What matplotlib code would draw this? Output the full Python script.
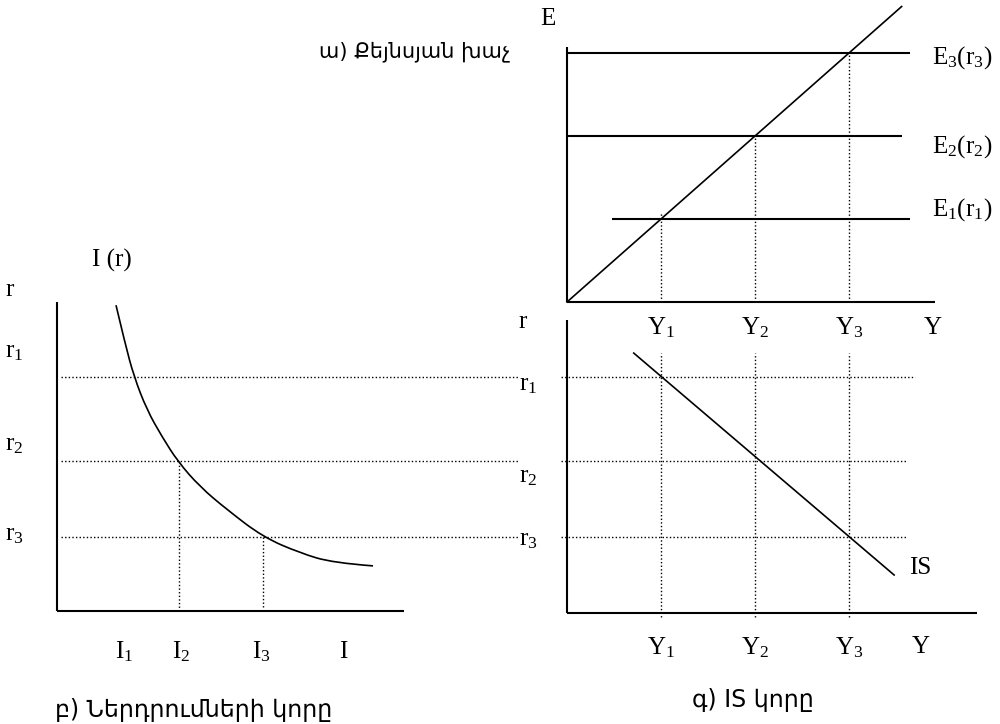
import matplotlib
matplotlib.use('Agg')
import matplotlib.pyplot as plt
from matplotlib.path import Path
from matplotlib.patches import PathPatch

plt.rcParams['font.family'] = ['Liberation Serif', 'DejaVu Serif']
plt.rcParams['mathtext.fontset'] = 'custom'
plt.rcParams['mathtext.rm'] = 'Liberation Serif'
plt.rcParams['mathtext.it'] = 'Liberation Serif:italic'

# income levels Y1..Y3 and spending lines E1..E3 (45 degree line, E = Y)
Y_levels = [1.0, 2.0, 3.0]
E_levels = [1.0, 2.0, 3.0]
# interest rates r1 > r2 > r3
r_levels = [3.1, 2.0, 1.0]
# investment curve I(r)
inv_I = [0.59, 0.68, 0.77, 0.90, 1.05, 1.21, 1.43, 1.70, 2.06, 2.43, 2.76, 3.16]
inv_r = [4.05, 3.55, 3.11, 2.67, 2.32, 1.99, 1.66, 1.36, 1.00, 0.79, 0.66, 0.62]
I_levels = [0.77, 1.22, 2.06]
# IS curve end points
is_Y = [0.71, 3.48]
is_r = [3.42, 0.50]

E_names = [r'$\mathrm{E}_1(\mathrm{r}_1)$', r'$\mathrm{E}_2(\mathrm{r}_2)$', r'$\mathrm{E}_3(\mathrm{r}_3)$']
Y_names = [r'$\mathrm{Y}_1$', r'$\mathrm{Y}_2$', r'$\mathrm{Y}_3$']
r_names = [r'$\mathrm{r}_1$', r'$\mathrm{r}_2$', r'$\mathrm{r}_3$']
I_names = [r'$\mathrm{I}_1$', r'$\mathrm{I}_2$', r'$\mathrm{I}_3$']

W, H = 1000, 724
fig = plt.figure(figsize=(10, 7.24), dpi=100)
fig.patch.set_facecolor('white')


def px_axes(left, top, right, bottom):
    a = fig.add_axes([left / W, 1 - bottom / H, (right - left) / W, (bottom - top) / H])
    a.set_axis_off()
    return a


def smooth_curve(ax, xs, ys, **kw):
    # quadratic b-spline through the read points, drawn as a bezier path
    pts = list(zip(xs, ys))
    verts = [pts[0]]
    codes = [Path.MOVETO]
    for i in range(1, len(pts) - 1):
        if i < len(pts) - 2:
            end = ((pts[i][0] + pts[i + 1][0]) / 2, (pts[i][1] + pts[i + 1][1]) / 2)
        else:
            end = pts[-1]
        verts += [pts[i], end]
        codes += [Path.CURVE3, Path.CURVE3]
    ax.add_patch(PathPatch(Path(verts, codes), fill=False, **kw))


ax_e = px_axes(567, 0, 1000, 302)
ax_e.set_xlim(0, 433 / 94)
ax_e.set_ylim(0, 302 / 83)
ax_is = px_axes(567, 302, 1000, 613)
ax_is.set_xlim(0, 433 / 94)
ax_is.set_ylim(0, 311 / 76)
ax_i = px_axes(57, 302, 557, 613)
ax_i.set_xlim(0, 5.0)
ax_i.set_ylim(0, 311 / 76)

solid = dict(color='black', lw=1.5, clip_on=False, solid_capstyle='butt')
curve = dict(color='black', lw=1.2, clip_on=False)
dots = dict(color='black', lw=1.0, ls=(0, (1, 1.6)), clip_on=False)
fs = 18

# a) Keynesian cross
ax_e.plot([0, 0], [0, 3.07], **solid)
ax_e.plot([0, 3.91], [0, 0], **solid)
ax_e.plot([0, 3.56], [0, 3.56], **curve)
e_start = [0.48, 0.0, 0.0]
e_end = [3.65, 3.56, 3.65]
e_lab = [0.11, -0.13, -0.06]
for i in range(3):
    ax_e.plot([e_start[i], e_end[i]], [E_levels[i], E_levels[i]], **solid)
    top = E_levels[i] + (0.08 if i == 0 else 0)
    ax_e.plot([Y_levels[i], Y_levels[i]], [0, top], **dots)
    ax_e.text(3.88, E_levels[i] + e_lab[i], E_names[i], fontsize=fs, ha='left', va='center')
ax_e.text(-0.2, 3.41, 'E', fontsize=fs, ha='center', va='center')
fig.text(415 / W, 1 - 52 / H, 'ա) Քեյնսյան խաչ', ha='center', va='center',
         family=['DejaVu Sans'], fontsize=15)

# c) IS curve
ax_is.plot([0, 0], [0, 3.86], **solid)
ax_is.plot([0, 4.36], [0, 0], **solid)
ax_is.plot(is_Y, is_r, **curve)
r_end = [3.70, 3.62, 3.62]
r_lab = [3.0, 1.79, 0.96]
for i in range(3):
    ax_is.plot([-0.064, r_end[i]], [r_levels[i], r_levels[i]], **dots)
    ax_is.plot([Y_levels[i], Y_levels[i]], [-0.05, 3.42], **dots)
    ax_is.text(Y_levels[i], 3.75, Y_names[i], fontsize=fs, ha='center', va='center')
    ax_is.text(Y_levels[i], -0.45, Y_names[i], fontsize=fs, ha='center', va='center')
    ax_is.text(-0.41, r_lab[i], r_names[i], fontsize=fs, ha='center', va='center')
ax_is.text(3.89, 3.75, 'Y', fontsize=fs, ha='center', va='center')
ax_is.text(3.76, -0.45, 'Y', fontsize=fs, ha='center', va='center')
ax_is.text(-0.47, 3.83, 'r', fontsize=fs, ha='center', va='center')
ax_is.text(3.64, 0.59, 'IS', fontsize=fs, ha='left', va='center')
fig.text(753 / W, 1 - 700 / H, 'գ) IS կորը', ha='center', va='center',
         family=['DejaVu Sans'], fontsize=17)

# b) investment curve
ax_i.plot([0, 0], [0.03, 4.09], **solid)
ax_i.plot([0, 3.47], [0.03, 0.03], **solid)
smooth_curve(ax_i, inv_I, inv_r, **curve)
for i in range(3):
    ax_i.plot([0.04, 4.61], [r_levels[i], r_levels[i]], **dots)
ax_i.plot([I_levels[1], I_levels[1]], [0.03, r_levels[1]], **dots)
ax_i.plot([I_levels[2], I_levels[2]], [0.08, r_levels[2]], **dots)
i_lab = [I_levels[0] - 0.1, I_levels[1] + 0.02, I_levels[2] - 0.02]
for i in range(3):
    ax_i.text(i_lab[i], -0.51, I_names[i], fontsize=fs, ha='center', va='center')
ax_i.text(2.86, -0.51, 'I', fontsize=fs, ha='center', va='center')
ax_i.text(0.55, 4.64, 'I (r)', fontsize=fs, ha='center', va='center')
ax_i.text(-0.52, 4.25, 'r', fontsize=fs, ha='left', va='center')
left_r = [3.43, 2.21, 1.03]
for i in range(3):
    ax_i.text(-0.52, left_r[i], r_names[i], fontsize=fs, ha='left', va='center')
fig.text(194 / W, 1 - 710 / H, 'բ) Ներդրումների կորը', ha='center', va='center',
         family=['DejaVu Sans'], fontsize=17)

plt.savefig('out.png', dpi=100, facecolor='white')
plt.close()
